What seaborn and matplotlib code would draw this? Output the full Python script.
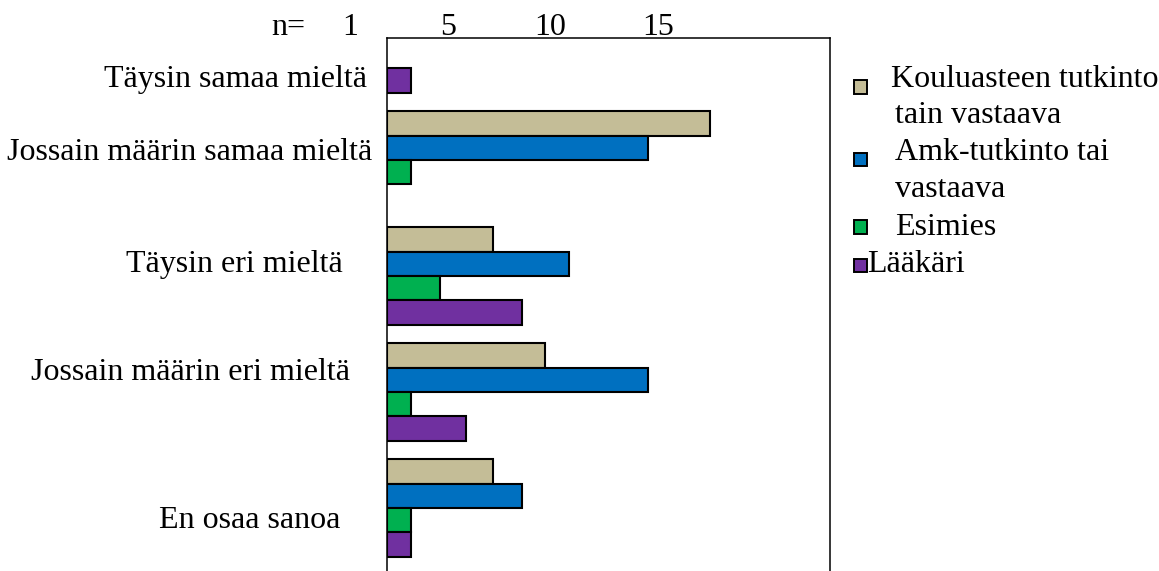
import matplotlib
matplotlib.use("Agg")
import matplotlib.pyplot as plt
import matplotlib.transforms as mtransforms
from matplotlib.patches import Rectangle
import numpy as np
import pandas as pd
import seaborn as sns

# --- data -------------------------------------------------------------
vastaukset = [
    "Täysin samaa mieltä",
    "Jossain määrin samaa mieltä",
    "Täysin eri mieltä",
    "Jossain määrin eri mieltä",
    "En osaa sanoa",
]
ryhmat = [
    "Kouluasteen tutkinto tain vastaava",
    "Amk-tutkinto tai vastaava",
    "Esimies",
    "Lääkäri",
]
kouluaste = [np.nan, 12.25, 4.0, 6.0, 4.0]
amk = [np.nan, 9.9, 6.9, 9.9, 5.1]
esimies = [np.nan, 0.9, 2.0, 0.9, 0.9]
laakari = [0.9, np.nan, 5.1, 3.0, 0.9]
varit = ["#C4BD97", "#0070C0", "#00B050", "#7030A0"]
otsake = ["n=", "1", "5", "10", "15"]

# --- long table for seaborn ------------------------------------------
rows = []
for ryhma, arvot in zip(ryhmat, [kouluaste, amk, esimies, laakari]):
    for vastaus, arvo in zip(vastaukset, arvot):
        rows.append({"vastaus": vastaus, "ryhma": ryhma, "n": arvo})
df = pd.DataFrame(rows).dropna()

W, H = 1159, 571
sns.set_theme(style="white")
plt.rcParams["font.family"] = ["Liberation Serif", "DejaVu Serif"]
FS = 23

fig = plt.figure(figsize=(W / 100, H / 100), dpi=100)
ax_left, ax_right, ax_top = 387, 830, 37.5
ax = fig.add_axes([ax_left / W, 0, (ax_right - ax_left) / W, (H - ax_top) / H])

sns.barplot(
    data=df, x="n", y="vastaus", hue="ryhma",
    order=vastaukset, hue_order=ryhmat, palette=varit,
    orient="h", dodge=True, width=0.84, saturation=1,
    edgecolor="black", linewidth=1.5, legend=False, ax=ax,
)

ax.set_xlim(0, 16.78)
ax.set_ylim(4.543, -0.056)
ax.set_xlabel("")
ax.set_ylabel("")
ax.set_xticks([])
for side in ["left", "top", "right"]:
    ax.spines[side].set_visible(True)
    ax.spines[side].set_color("black")
    ax.spines[side].set_linewidth(1.1)
ax.spines["bottom"].set_visible(False)

# category labels, right-aligned left of the plot, nudged individually
ax.tick_params(axis="y", length=0, pad=15 * 72 / 100, labelsize=FS, labelcolor="black")
ax.set_yticks(range(len(vastaukset)))
ax.set_yticklabels(vastaukset)
nudge_px = [(-5, 43), (0, 0), (-29, -4), (-22, -12), (-32, 20)]
for lab, (dx, dy) in zip(ax.get_yticklabels(), nudge_px):
    lab.set_verticalalignment("baseline")
    lab.set_transform(lab.get_transform()
                      + mtransforms.ScaledTranslation(dx / 100, -dy / 100, fig.dpi_scale_trans))


def fxy(x, y):
    return x / W, 1 - y / H


# header row above the plot
for txt, xc in zip(otsake, [288, 350, 448, 550, 658]):
    fig.text(*fxy(xc, 35), txt, ha="center", va="baseline", fontsize=FS, color="black")

# legend
legend_rows = [
    (80, [(" Kouluasteen tutkinto", 883, 87), ("tain vastaava", 895, 123)]),
    (153, [("Amk-tutkinto tai", 895, 160), ("vastaava", 895, 197)]),
    (220, [("Esimies", 895, 235)]),
    (259, [("Lääkäri", 867, 272)]),
]
for color, (sq_y, lines) in zip(varit, legend_rows):
    x0, y0 = fxy(854, sq_y + 13.5)
    fig.patches.append(Rectangle((x0, y0), 13 / W, 13.5 / H, transform=fig.transFigure,
                                 facecolor=color, edgecolor="black", linewidth=1.4))
    for txt, lx, ly in lines:
        fig.text(*fxy(lx, ly), txt, ha="left", va="baseline", fontsize=FS, color="black")

fig.savefig("out.png", dpi=100, facecolor="white")
